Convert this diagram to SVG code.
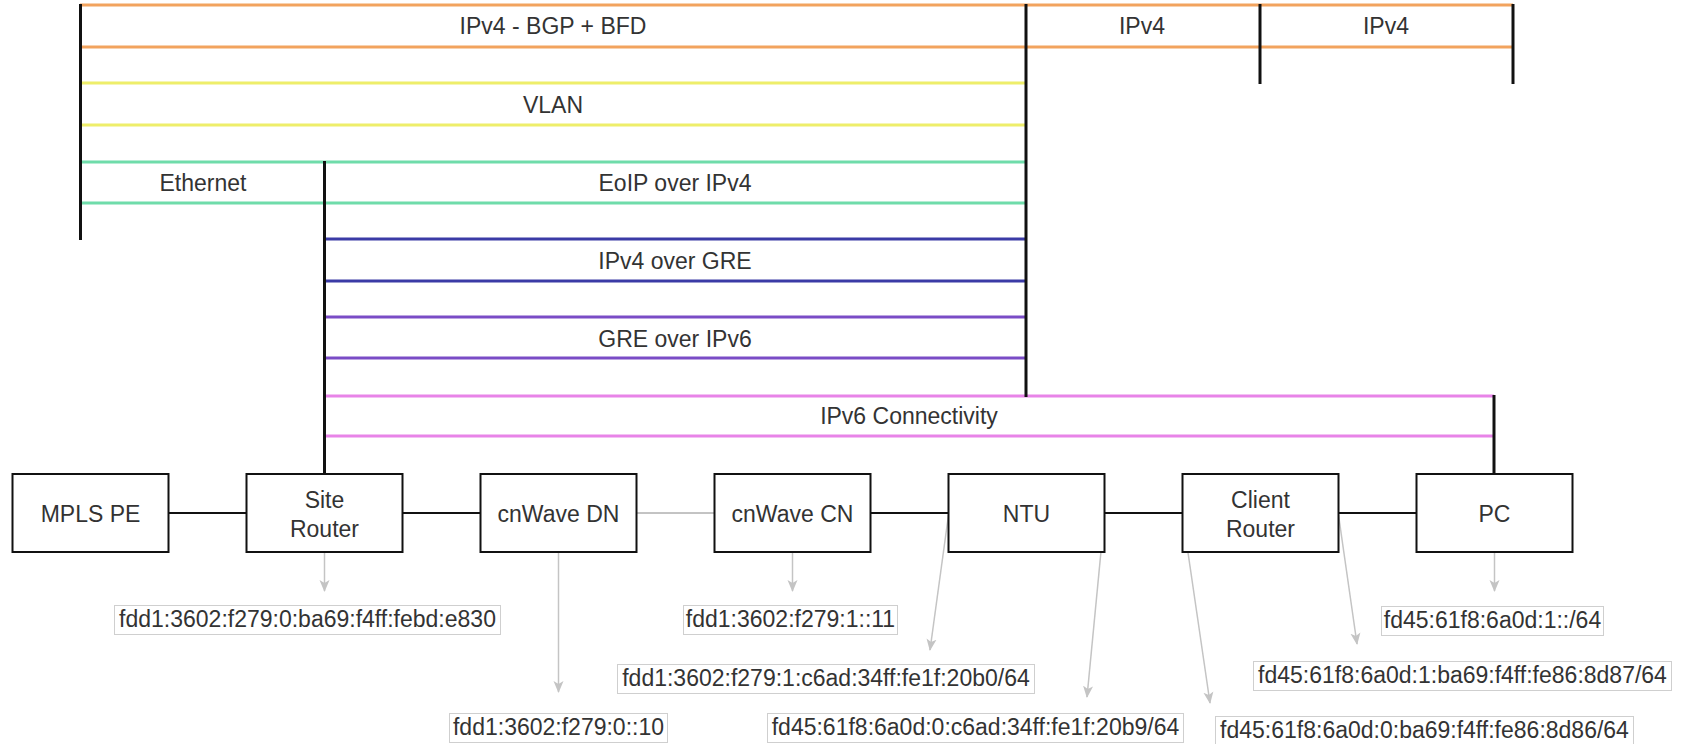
<svg xmlns="http://www.w3.org/2000/svg" width="1685" height="744" viewBox="0 0 1685 744">
<style>
  text { font-family: "Liberation Sans", Arial, sans-serif; font-size: 23px; fill: #333; text-anchor: middle; }
  .band { stroke-width: 3; fill: none; }
  .orange { stroke: #f2a35e; }
  .yellow { stroke: #eeee6a; }
  .green { stroke: #6fdcaa; }
  .blue { stroke: #3b3ba6; }
  .purple { stroke: #7a4cc6; }
  .pink { stroke: #e884e8; }
  .bar { stroke: #111; stroke-width: 3; fill: none; }
  .box { fill: #fff; stroke: #111; stroke-width: 2; }
  .link { stroke: #111; stroke-width: 2; fill: none; }
  .wlink { stroke: #888; stroke-width: 1; fill: none; }
  .ptr { stroke: #c4c4c4; stroke-width: 1.5; fill: none; marker-end: url(#ah); }
  .lbl { fill: #fff; stroke: #cfcfcf; stroke-width: 1; }
</style>
<defs>
  <marker id="ah" markerUnits="userSpaceOnUse" markerWidth="12" markerHeight="12" viewBox="0 0 12 12" refX="11" refY="6" orient="auto">
    <path d="M0,1 L12,6 L0,11 L3,6 Z" fill="#c4c4c4"/>
  </marker>
</defs>
<rect width="1685" height="744" fill="#fff"/>

<g id="layer-ipv4-bgp">
  <line class="band orange" x1="80" y1="5" x2="1513" y2="5"/>
  <line class="band orange" x1="80" y1="47" x2="1513" y2="47"/>
  <text x="553" y="34">IPv4 - BGP + BFD</text>
  <text x="1142" y="34">IPv4</text>
  <text x="1386" y="34">IPv4</text>
</g>
<g id="layer-vlan">
  <line class="band yellow" x1="80" y1="83" x2="1026" y2="83"/>
  <line class="band yellow" x1="80" y1="125" x2="1026" y2="125"/>
  <text x="553" y="113">VLAN</text>
</g>
<g id="layer-ethernet">
  <line class="band green" x1="80" y1="162" x2="1026" y2="162"/>
  <line class="band green" x1="80" y1="203" x2="1026" y2="203"/>
  <text x="203" y="191">Ethernet</text>
  <text x="675" y="191">EoIP over IPv4</text>
</g>
<g id="layer-ipv4-gre">
  <line class="band blue" x1="324.5" y1="239" x2="1026" y2="239"/>
  <line class="band blue" x1="324.5" y1="281" x2="1026" y2="281"/>
  <text x="675" y="269">IPv4 over GRE</text>
</g>
<g id="layer-gre-ipv6">
  <line class="band purple" x1="324.5" y1="317" x2="1026" y2="317"/>
  <line class="band purple" x1="324.5" y1="358" x2="1026" y2="358"/>
  <text x="675" y="347">GRE over IPv6</text>
</g>
<g id="layer-ipv6">
  <line class="band pink" x1="324.5" y1="396" x2="1494" y2="396"/>
  <line class="band pink" x1="324.5" y1="436" x2="1494" y2="436"/>
  <text x="909" y="424">IPv6 Connectivity</text>
</g>

<g id="connectors">
  <line class="bar" x1="80.5" y1="4" x2="80.5" y2="240"/>
  <line class="bar" x1="1026" y1="4" x2="1026" y2="397"/>
  <line class="bar" x1="1260" y1="4" x2="1260" y2="84"/>
  <line class="bar" x1="1513" y1="4" x2="1513" y2="84"/>
  <line class="bar" x1="324.5" y1="161" x2="324.5" y2="474"/>
  <line class="bar" x1="1494" y1="395" x2="1494" y2="474"/>

  <line class="link" x1="168.5" y1="513" x2="246.5" y2="513"/>
  <line class="link" x1="402.5" y1="513" x2="480.5" y2="513"/>
  <line class="wlink" x1="636.5" y1="513" x2="714.5" y2="513"/>
  <line class="link" x1="870.5" y1="513" x2="948.5" y2="513"/>
  <line class="link" x1="1104.5" y1="513" x2="1182.5" y2="513"/>
  <line class="link" x1="1338.5" y1="513" x2="1416.5" y2="513"/>

  <line class="ptr" x1="324.5" y1="553" x2="324.5" y2="591"/>
  <line class="ptr" x1="558.5" y1="553" x2="558.5" y2="692"/>
  <line class="ptr" x1="792.5" y1="553" x2="792.5" y2="591"/>
  <line class="ptr" x1="948.5" y1="515" x2="930" y2="650"/>
  <line class="ptr" x1="1104.5" y1="515" x2="1087" y2="697"/>
  <line class="ptr" x1="1182.5" y1="515" x2="1210" y2="703"/>
  <line class="ptr" x1="1338.5" y1="515" x2="1357" y2="644"/>
  <line class="ptr" x1="1494.5" y1="553" x2="1494.5" y2="591"/>
</g>

<g id="node-mpls-pe">
  <rect class="box" x="12.5" y="474" width="156" height="78"/>
  <text x="90.5" y="522">MPLS PE</text>
</g>
<g id="node-site-router">
  <rect class="box" x="246.5" y="474" width="156" height="78"/>
  <text x="324.5" y="508">Site</text>
  <text x="324.5" y="537">Router</text>
</g>
<g id="node-cnwave-dn">
  <rect class="box" x="480.5" y="474" width="156" height="78"/>
  <text x="558.5" y="522">cnWave DN</text>
</g>
<g id="node-cnwave-cn">
  <rect class="box" x="714.5" y="474" width="156" height="78"/>
  <text x="792.5" y="522">cnWave CN</text>
</g>
<g id="node-ntu">
  <rect class="box" x="948.5" y="474" width="156" height="78"/>
  <text x="1026.5" y="522">NTU</text>
</g>
<g id="node-client-router">
  <rect class="box" x="1182.5" y="474" width="156" height="78"/>
  <text x="1260.5" y="508">Client</text>
  <text x="1260.5" y="537">Router</text>
</g>
<g id="node-pc">
  <rect class="box" x="1416.5" y="474" width="156" height="78"/>
  <text x="1494.5" y="522">PC</text>
</g>

<g id="label-site-router">
  <rect class="lbl" x="114.5" y="605.5" width="386" height="29"/>
  <text x="307.5" y="627">fdd1:3602:f279:0:ba69:f4ff:febd:e830</text>
</g>
<g id="label-cnwave-dn">
  <rect class="lbl" x="449.5" y="713.5" width="218" height="29"/>
  <text x="558.5" y="735">fdd1:3602:f279:0::10</text>
</g>
<g id="label-cnwave-cn">
  <rect class="lbl" x="683.5" y="605.5" width="214" height="29"/>
  <text x="790.5" y="627">fdd1:3602:f279:1::11</text>
</g>
<g id="label-ntu-wan">
  <rect class="lbl" x="617.5" y="664.5" width="417" height="29"/>
  <text x="826" y="686">fdd1:3602:f279:1:c6ad:34ff:fe1f:20b0/64</text>
</g>
<g id="label-ntu-lan">
  <rect class="lbl" x="767.5" y="713.5" width="416" height="29"/>
  <text x="975.5" y="735">fd45:61f8:6a0d:0:c6ad:34ff:fe1f:20b9/64</text>
</g>
<g id="label-client-wan">
  <rect class="lbl" x="1215.5" y="716.5" width="418" height="29"/>
  <text x="1424.5" y="738">fd45:61f8:6a0d:0:ba69:f4ff:fe86:8d86/64</text>
</g>
<g id="label-client-lan">
  <rect class="lbl" x="1253.5" y="661.5" width="418" height="29"/>
  <text x="1462.5" y="683">fd45:61f8:6a0d:1:ba69:f4ff:fe86:8d87/64</text>
</g>
<g id="label-pc">
  <rect class="lbl" x="1381.5" y="606.5" width="222" height="29"/>
  <text x="1492.5" y="628">fd45:61f8:6a0d:1::/64</text>
</g>
</svg>
